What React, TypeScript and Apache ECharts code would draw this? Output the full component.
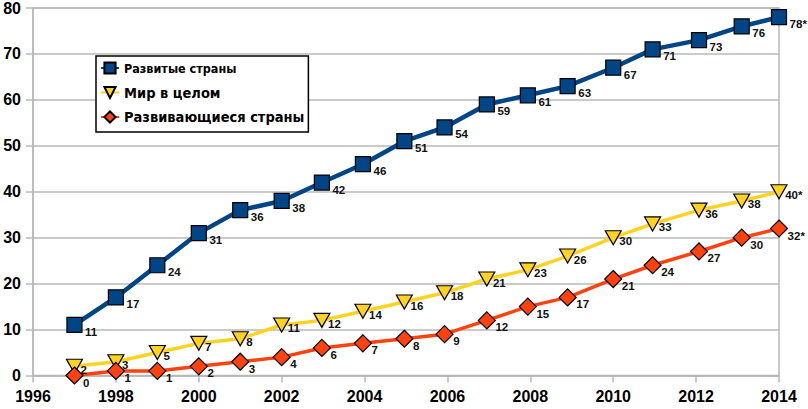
import React, { useEffect, useRef } from "react";
import * as echarts from "echarts";

const years = [1997, 1998, 1999, 2000, 2001, 2002, 2002.97, 2003.96, 2004.96, 2005.93, 2006.95, 2007.94, 2008.9, 2010, 2010.95, 2012.07, 2013.1, 2014];
const developed = [11, 17, 24, 31, 36, 38, 42, 46, 51, 54, 59, 61, 63, 67, 71, 73, 76, 78];
const world = [2, 3, 5, 7, 8, 11, 12, 14, 16, 18, 21, 23, 26, 30, 33, 36, 38, 40];
const developing = [0, 1, 1, 2, 3, 4, 6, 7, 8, 9, 12, 15, 17, 21, 24, 27, 30, 32];
const seriesNames = ["Развитые страны", "Мир в целом", "Развивающиеся страны"];
const estimateMark = "*";

const GRID = "#b8b8b8";

function mkLabel(offset: number[], distance: number) {
  return {
    show: true,
    position: "right",
    distance,
    offset,
    color: "#111",
    fontFamily: "'Liberation Sans Narrow', 'Liberation Sans', Arial, sans-serif",
    fontWeight: "bold",
    fontSize: 11.5,
    lineHeight: 12,
    formatter: (p: any) =>
      String(p.value[1]) + (p.dataIndex === years.length - 1 ? estimateMark : ""),
  };
}

const legendFont = "'DejaVu Sans Condensed', 'DejaVu Sans', Verdana, sans-serif";

export default function App() {
  const ref = useRef<HTMLDivElement>(null);
  useEffect(() => {
    if (!ref.current) return;
    const chart = echarts.init(ref.current, undefined, { renderer: "svg" });
    const pair = (vals: number[]) => years.map((x, i) => [x, vals[i]]);
    chart.setOption({
      animation: false,
      backgroundColor: "#fff",
      grid: {
        left: 33,
        right: 29,
        top: 6.5,
        bottom: 33.5,
        show: true,
        borderColor: GRID,
        borderWidth: 1.5,
        backgroundColor: "transparent",
      },
      legend: {
        orient: "vertical",
        left: 96,
        top: 56,
        padding: [4, 4, 7, 4],
        itemWidth: 18,
        itemHeight: 14,
        itemGap: 8.5,
        borderColor: "#000",
        borderWidth: 1.5,
        backgroundColor: "#fff",
        textStyle: {
          fontFamily: legendFont,
          fontWeight: "bold",
          fontSize: 14.5,
          lineHeight: 16,
          color: "#000",
        },
        data: [
          { name: seriesNames[0], textStyle: { fontSize: 12.5, lineHeight: 16 } },
          { name: seriesNames[1] },
          { name: seriesNames[2] },
        ],
      },
      xAxis: {
        type: "value",
        min: 1996,
        max: 2014,
        interval: 2,
        axisLine: { show: true, lineStyle: { color: GRID, width: 1.5 } },
        axisTick: { show: true, length: 7, lineStyle: { color: GRID, width: 1.5 } },
        splitLine: { show: false },
        axisLabel: {
          margin: 13,
          color: "#000",
          fontFamily: "'Liberation Sans', Arial, sans-serif",
          fontWeight: "bold",
          fontSize: 16,
          formatter: (v: number) => String(v),
        },
      },
      yAxis: {
        type: "value",
        min: 0,
        max: 80,
        interval: 10,
        axisLine: { show: true, lineStyle: { color: GRID, width: 1.5 } },
        axisTick: { show: true, length: 7, lineStyle: { color: GRID, width: 1.5 } },
        splitLine: { show: true, lineStyle: { color: GRID, width: 1.5 } },
        axisLabel: {
          margin: 12,
          color: "#000",
          fontFamily: "'Liberation Sans', Arial, sans-serif",
          fontWeight: "bold",
          fontSize: 16,
        },
      },
      series: [
        {
          name: seriesNames[0],
          type: "line",
          data: pair(developed),
          lineStyle: { color: "#004586", width: 4.5 },
          itemStyle: { color: "#004586", borderColor: "#000", borderWidth: 1.2 },
          symbol: "rect",
          symbolSize: 15,
          label: mkLabel([0, 7], 2.5),
          z: 3,
        },
        {
          name: seriesNames[1],
          type: "line",
          data: pair(world),
          lineStyle: { color: "#ffd320", width: 3.5 },
          itemStyle: { color: "#ffd320", borderColor: "#000", borderWidth: 1.2 },
          symbol: "triangle",
          symbolRotate: 180,
          symbolSize: [16, 14],
          label: mkLabel([-3.5, 3.5], 1),
          z: 2,
        },
        {
          name: seriesNames[2],
          type: "line",
          data: pair(developing),
          lineStyle: { color: "#ff420e", width: 3.5 },
          itemStyle: { color: "#ff420e", borderColor: "#000", borderWidth: 1.2 },
          symbol: "diamond",
          symbolSize: 17,
          label: mkLabel([-1.5, 7], 1),
          z: 2,
        },
      ],
    });
    return () => chart.dispose();
  }, []);
  return <div ref={ref} style={{ width: 808, height: 409, position: "absolute", left: 0, top: 0 }} />;
}
